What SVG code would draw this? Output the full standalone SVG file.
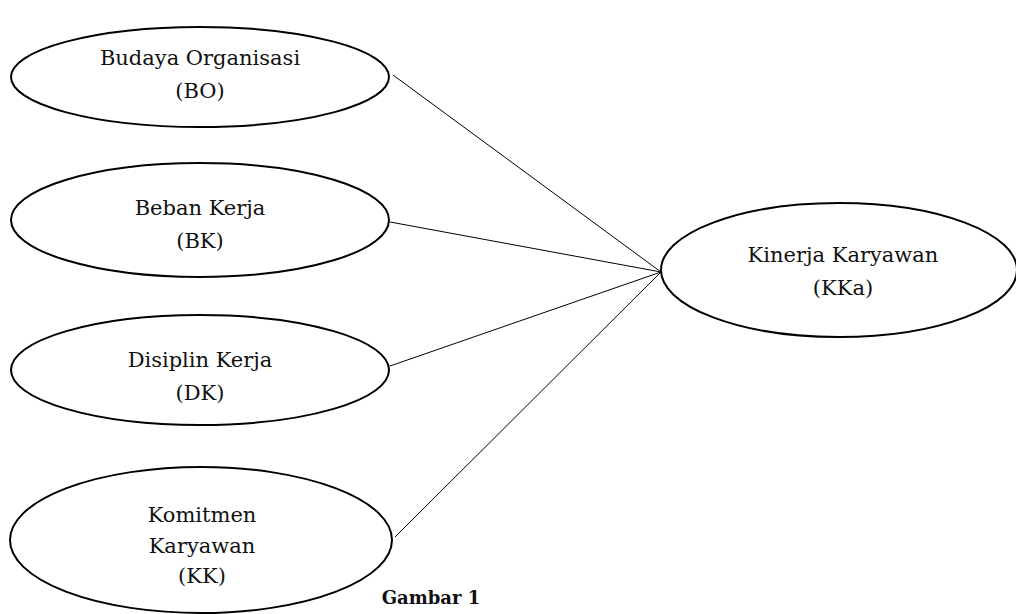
<svg xmlns="http://www.w3.org/2000/svg" width="1016" height="614" viewBox="0 0 1016 614">
<style>
.n{fill:#fff;stroke:#000;stroke-width:2}
.t{font-family:"DejaVu Serif","Liberation Serif",serif;font-size:21px;text-anchor:middle;fill:#111}
.g{font-family:"DejaVu Serif","Liberation Serif",serif;font-size:18px;font-weight:bold;text-anchor:middle;fill:#111}
.c line{stroke:#000;stroke-width:1}
</style>
<rect width="1016" height="614" fill="#fff"/>
<g class="c" id="connectors">
<line x1="393" y1="75" x2="661" y2="272"/>
<line x1="390" y1="222" x2="661" y2="272"/>
<line x1="390" y1="366" x2="661" y2="272"/>
<line x1="395" y1="537" x2="661" y2="272"/>
</g>
<g id="BO"><ellipse class="n" cx="200" cy="77" rx="189" ry="50"/>
<text class="t" x="200" y="65">Budaya Organisasi</text><text class="t" x="200" y="98">(BO)</text></g>
<g id="BK"><ellipse class="n" cx="200" cy="220" rx="189" ry="57"/>
<text class="t" x="200" y="215">Beban Kerja</text><text class="t" x="200" y="248">(BK)</text></g>
<g id="DK"><ellipse class="n" cx="200" cy="370" rx="189" ry="55"/>
<text class="t" x="200" y="367">Disiplin Kerja</text><text class="t" x="200" y="400">(DK)</text></g>
<g id="KK"><ellipse class="n" cx="201" cy="540" rx="191" ry="73"/>
<text class="t" x="202" y="522">Komitmen</text><text class="t" x="202" y="553">Karyawan</text><text class="t" x="202" y="583">(KK)</text></g>
<g id="KKa"><ellipse class="n" cx="839" cy="270" rx="178" ry="67"/>
<text class="t" x="843" y="262">Kinerja Karyawan</text><text class="t" x="843" y="295">(KKa)</text></g>
<text class="g" x="431" y="604">Gambar 1</text>
</svg>
